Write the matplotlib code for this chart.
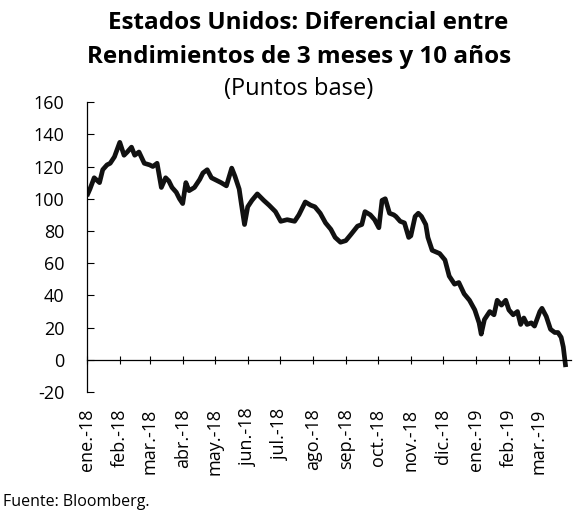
import pandas as pd
import matplotlib.pyplot as plt

# datos (puntos base)
fechas = ['2018-01-02', '2018-01-04', '2018-01-08', '2018-01-13', '2018-01-16', '2018-01-20',
          '2018-01-23', '2018-01-27', '2018-02-01', '2018-02-05', '2018-02-08', '2018-02-12',
          '2018-02-15', '2018-02-19', '2018-02-24', '2018-03-01', '2018-03-04', '2018-03-08',
          '2018-03-12', '2018-03-16', '2018-03-19', '2018-03-22', '2018-03-26', '2018-03-29',
          '2018-04-01', '2018-04-04', '2018-04-07', '2018-04-12', '2018-04-17', '2018-04-20',
          '2018-04-24', '2018-04-28', '2018-05-01', '2018-05-04', '2018-05-07', '2018-05-12',
          '2018-05-17', '2018-05-20', '2018-05-24', '2018-05-26', '2018-05-29', '2018-06-01',
          '2018-06-05', '2018-06-10', '2018-06-16', '2018-06-21', '2018-06-27', '2018-07-02',
          '2018-07-08', '2018-07-15', '2018-07-19', '2018-07-25', '2018-07-30', '2018-08-03',
          '2018-08-08', '2018-08-13', '2018-08-18', '2018-08-22', '2018-08-27', '2018-09-01',
          '2018-09-06', '2018-09-12', '2018-09-16', '2018-09-19', '2018-09-24', '2018-09-28',
          '2018-10-02', '2018-10-05', '2018-10-08', '2018-10-12', '2018-10-16', '2018-10-18',
          '2018-10-22', '2018-10-26', '2018-10-30', '2018-11-01', '2018-11-05', '2018-11-08',
          '2018-11-11', '2018-11-15', '2018-11-17', '2018-11-21', '2018-11-28', '2018-12-03',
          '2018-12-07', '2018-12-12', '2018-12-16', '2018-12-21', '2018-12-26', '2018-12-31',
          '2019-01-04', '2019-01-06', '2019-01-09', '2019-01-14', '2019-01-18', '2019-01-21',
          '2019-01-25', '2019-01-29', '2019-02-01', '2019-02-05', '2019-02-09', '2019-02-12',
          '2019-02-15', '2019-02-18', '2019-02-22', '2019-02-25', '2019-03-02', '2019-03-04',
          '2019-03-08', '2019-03-12', '2019-03-16', '2019-03-19', '2019-03-22', '2019-03-24',
          '2019-03-26']
valores = [103, 106, 113, 110, 118, 121,
           122, 126, 135, 127, 129, 132,
           127, 129, 122, 121, 120, 122,
           107, 113, 111, 107, 104, 100,
           97, 110, 105, 107, 112, 116,
           118, 113, 112, 111, 110, 108,
           119, 114, 106, 97, 84, 95,
           99, 103, 99, 96, 92, 86,
           87, 86, 90, 98, 96, 95,
           91, 85, 81, 76, 73, 74,
           78, 83, 84, 92, 90, 87,
           82, 99, 100, 91, 90, 89,
           86, 85, 76, 77, 89, 91,
           89, 84, 76, 68, 66, 62,
           52, 47, 48, 41, 37, 31,
           23, 16, 25, 30, 28, 37,
           34, 37, 31, 28, 30, 22,
           26, 22, 23, 21, 30, 32,
           27, 19, 17, 17, 14, 8,
           -3]

meses = ['ene.-18', 'feb.-18', 'mar.-18', 'abr.-18', 'may.-18', 'jun.-18', 'jul.-18',
         'ago.-18', 'sep.-18', 'oct.-18', 'nov.-18', 'dic.-18', 'ene.-19', 'feb.-19', 'mar.-19']

data = pd.DataFrame({'fecha': pd.to_datetime(fechas), 'valor': valores})
ticks = pd.date_range('2018-01-01', periods=len(meses), freq='MS')

plt.rcParams['font.family'] = ['Open Sans', 'DejaVu Sans']
plt.rcParams['axes.unicode_minus'] = False

fig = plt.figure(figsize=(5.86, 5.18), dpi=100)
ax = fig.add_axes([0.148, 0.243, 0.826, 0.560])

ax.plot(data['fecha'], data['valor'], color='#111111', linewidth=3.4, solid_joinstyle='round')

# ejes
ax.set_ylim(-20, 160)
ax.set_yticks(range(-20, 161, 20))
ax.set_xlim(pd.Timestamp('2018-01-01'), pd.Timestamp('2019-03-31'))
ax.set_xticks(ticks)
ax.set_xticklabels(meses)

for s in ['top', 'right']:
    ax.spines[s].set_visible(False)
ax.spines['bottom'].set_position(('data', 0))
ax.spines['bottom'].set_linewidth(0.9)
ax.spines['left'].set_linewidth(0.9)

ax.tick_params(axis='y', direction='in', length=5, width=0.8, pad=16, labelsize=13)
ax.tick_params(axis='x', direction='inout', length=6, width=0.8, pad=32,
               labelsize=13, labelrotation=90)

# títulos
fig.text(0.525, 0.955, 'Estados Unidos: Diferencial entre', ha='center', va='center',
         fontsize=17.5, fontweight='bold')
fig.text(0.51, 0.89, 'Rendimientos de 3 meses y 10 años', ha='center', va='center',
         fontsize=17.5, fontweight='bold')
fig.text(0.51, 0.829, '(Puntos base)', ha='center', va='center', fontsize=17)
fig.text(0.005, 0.03, 'Fuente: Bloomberg.', ha='left', va='center', fontsize=11.5)

fig.savefig('out.png', dpi=100)
